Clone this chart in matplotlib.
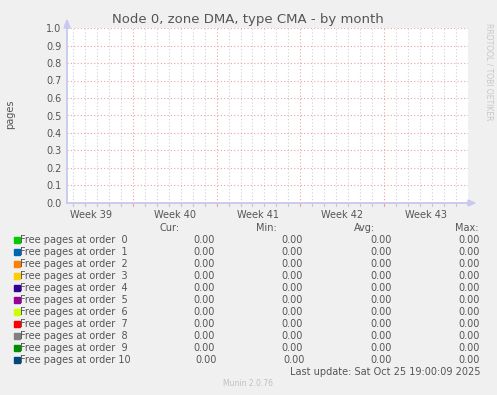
import numpy as np
import matplotlib
matplotlib.use("Agg")
import matplotlib.pyplot as plt
from matplotlib.patches import Rectangle, Polygon

# --- data ---
# x axis in days, 0 = start of week 40
x_start, x_end = -5.52, 28.03
weeks = [39, 40, 41, 42, 43]
week_starts = [-7, 0, 7, 14, 21]

series = ["Free pages at order  0", "Free pages at order  1", "Free pages at order  2",
          "Free pages at order  3", "Free pages at order  4", "Free pages at order  5",
          "Free pages at order  6", "Free pages at order  7", "Free pages at order  8",
          "Free pages at order  9", "Free pages at order 10"]
colors = ["#00CC00", "#0066B3", "#FF8000", "#FFCC00", "#330099", "#990099",
          "#CCFF00", "#FF0000", "#808080", "#008F00", "#00487D"]
times = [x_start, x_end]
values = [[0.0, 0.0] for _ in series]
cur = [0.0] * 11
vmin = [0.0] * 11
avg = [0.0] * 11
vmax = [0.0] * 11

W, H = 497, 395
TXT = "#555555"
AXC = "#C8C8F0"

def px(x, y):
    return x / W, 1 - y / H

fig = plt.figure(figsize=(W / 100, H / 100), dpi=100, facecolor="#F0F0F0")
left, top, right, bottom = 67, 28, 468, 203
ax = fig.add_axes([left / W, 1 - bottom / H, (right - left) / W, (bottom - top) / H])
ax.set_facecolor("white")

# zero-valued series sit under the x axis line
for name, c, v in zip(series, colors, values):
    ax.plot(times, v, color=c, lw=0.5, zorder=0.5)

ax.set_xlim(x_start, x_end)
ax.set_ylim(0, 1.0)

# grid lines
days = np.arange(np.ceil(x_start), x_end - 0.2)
for d in days:
    major = int(d) % 7 == 0
    ax.axvline(d, color="#F0A0A0" if major else "#D0D0D0", lw=0.8,
               ls=(0, (1, 2)), zorder=0)
    ax.plot([d, d], [0, -0.015], color="#F0A0A0" if major else "#C8C8C8",
            lw=0.8, clip_on=False, zorder=0)
yt = np.round(np.arange(0, 1.01, 0.1), 1)
for y in yt[1:]:
    ax.axhline(y, color="#F0A0A0", lw=0.8, ls=(0, (1, 2)), zorder=0)

ax.set_yticks(yt)
ax.set_yticklabels([f"{y:.1f}" for y in yt])
ax.set_xticks([s + 3.5 for s in week_starts])
ax.set_xticklabels([f"Week {w}" for w in weeks])
ax.tick_params(axis="both", length=0, labelsize=7, colors=TXT, pad=4)
ax.tick_params(axis="x", pad=5)
for s in ["top", "right"]:
    ax.spines[s].set_visible(False)
for s in ["left", "bottom"]:
    ax.spines[s].set_color(AXC)
    ax.spines[s].set_linewidth(1.3)
    ax.spines[s].set_zorder(3)

# axis arrows
fig.patches.append(Polygon([px(64, 28), px(70, 28), px(67, 20)], closed=True,
                           transform=fig.transFigure, color=AXC))
fig.patches.append(Polygon([px(468, 200), px(468, 206), px(475, 203)], closed=True,
                           transform=fig.transFigure, color=AXC))

fig.text(*px(248, 19), "Node 0, zone DMA, type CMA - by month", ha="center",
         va="center", fontsize=9.5, color=TXT)
fig.text(*px(10, 114), "pages", rotation=90, ha="center", va="center",
         fontsize=7, color=TXT)
fig.text(*px(489, 23), "RRDTOOL / TOBI OETIKER", rotation=270, ha="center",
         va="top", fontsize=5.5, color="#C8C8C8")

# legend
fs = 7
for x, h in [(180, "Cur:"), (277, "Min:"), (375, "Avg:"), (478, "Max:")]:
    fig.text(*px(x, 228), h, ha="right", va="center", fontsize=fs, color=TXT)
for i, (name, c) in enumerate(zip(series, colors)):
    y = 240 + 12 * i
    fig.patches.append(Rectangle(px(14, y + 3), 6 / W, 6 / H,
                                 transform=fig.transFigure, color=c))
    fig.text(*px(20.5, y), name, ha="left", va="center", fontsize=fs, color=TXT)
    shift = 2 if i == 10 else 0
    for x, vals in [(215, cur), (303, vmin), (392, avg), (480, vmax)]:
        xx = x + (shift if x < 390 else 0)
        fig.text(*px(xx, y), f"{vals[i]:.2f}", ha="right", va="center",
                 fontsize=fs, color=TXT)
fig.text(*px(480, 372), "Last update: Sat Oct 25 19:00:09 2025", ha="right",
         va="center", fontsize=fs, color=TXT)
fig.text(*px(223, 384), "Munin 2.0.76", ha="left", va="center", fontsize=5.5,
         color="#C0C0C0")

fig.savefig("out.png", dpi=100, facecolor=fig.get_facecolor())
